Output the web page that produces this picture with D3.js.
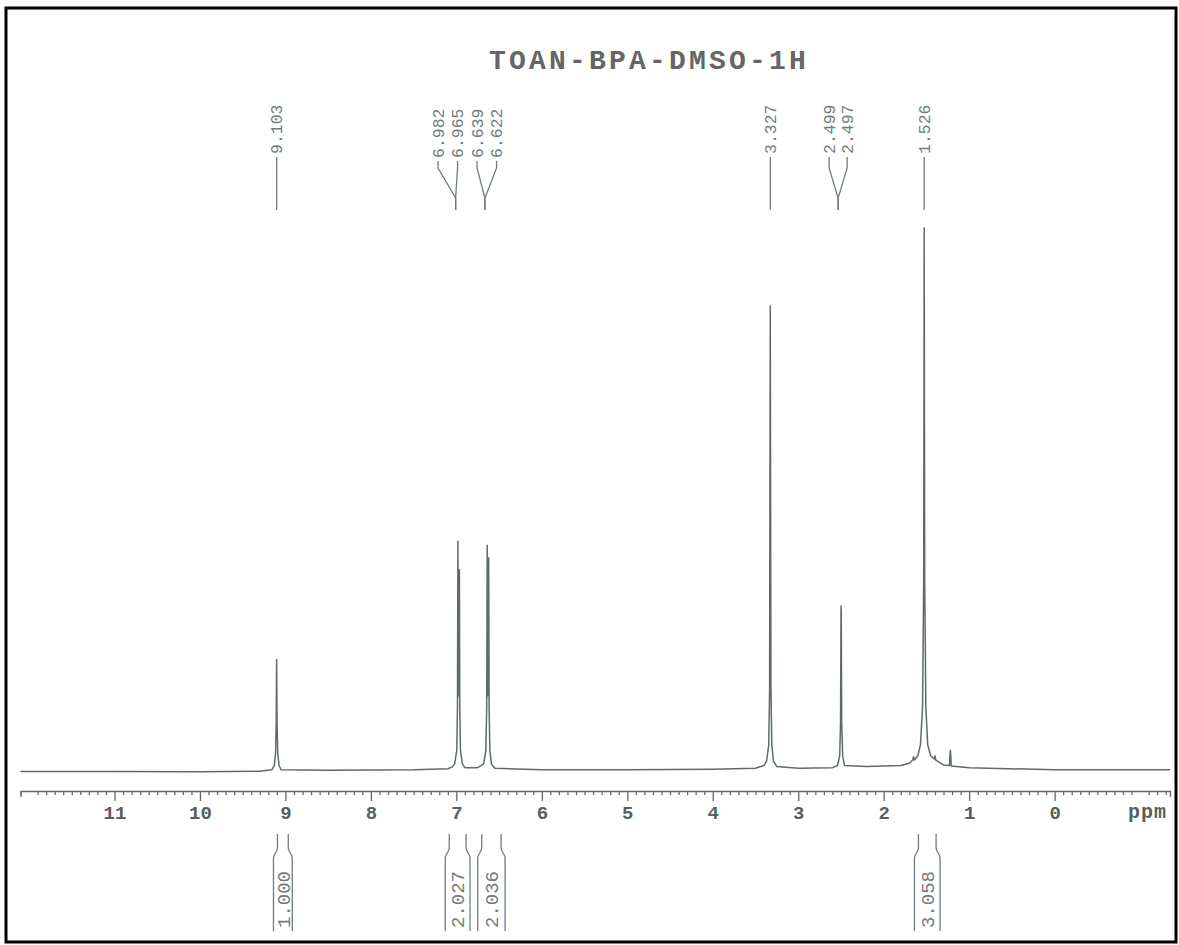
<!DOCTYPE html>
<html>
<head>
<meta charset="utf-8">
<script src="https://cdn.jsdelivr.net/npm/d3@7"></script>
<style>
  body { margin: 0; background: #fff; }
  svg { display: block; }
</style>
</head>
<body>
<div id="chart"></div>
<script>
// spectrum: [ppm, intensity], 100 = tallest peak
const spectrum = [
  [12.1, 0.1], [11, 0.1], [10, 0.05], [9.3, 0.15],
  [9.16, 0.4], [9.13, 1.2], [9.115, 3.5], [9.108, 9], [9.103, 20.7], [9.098, 9], [9.09, 3.5], [9.075, 1.2], [9.05, 0.4],
  [8.5, 0.3], [7.5, 0.4], [7.1, 0.6], [7.05, 0.9],
  [7.02, 1.5], [6.995, 4], [6.987, 12], [6.982, 42.4], [6.976, 14], [6.971, 14], [6.965, 37.2], [6.96, 12], [6.952, 4], [6.93, 1.5], [6.9, 0.8],
  [6.75, 0.8], [6.68, 1.5], [6.655, 4], [6.645, 12], [6.639, 41.7], [6.633, 14], [6.628, 14], [6.622, 39.4], [6.617, 12], [6.608, 4], [6.59, 1.5], [6.55, 0.7],
  [6, 0.4], [5, 0.4], [4, 0.5], [3.5, 0.7], [3.4, 1.2],
  [3.37, 2], [3.345, 5], [3.335, 15], [3.327, 85.7], [3.319, 15], [3.309, 5], [3.29, 2], [3.25, 1],
  [3, 0.7], [2.6, 0.8],
  [2.54, 1.2], [2.515, 3], [2.505, 9], [2.499, 30.5], [2.498, 28], [2.497, 30], [2.491, 9], [2.48, 3], [2.46, 1.2],
  [2.2, 1], [1.8, 1.2], [1.7, 1.6], [1.66, 2.2], [1.65, 2.8], [1.64, 2.2], [1.6, 3], [1.57, 5], [1.545, 12], [1.532, 35],
  [1.526, 100], [1.52, 35], [1.507, 12], [1.485, 5], [1.45, 3], [1.41, 2.4], [1.4, 3], [1.39, 2.2], [1.3, 1.3],
  [1.23, 1.2], [1.225, 3], [1.22, 4], [1.215, 3], [1.21, 1.1], [1, 0.8], [0, 0.4], [-1.35, 0.4]
];

// peak picks, grouped as printed
const peakGroups = [
  [9.103],
  [6.982, 6.965, 6.639, 6.622],
  [3.327],
  [2.499, 2.497],
  [1.526]
];

// integrals: [from ppm, to ppm, value]
const integrals = [
  [9.14, 8.92, "1.000"],
  [7.13, 6.84, "2.027"],
  [6.75, 6.43, "2.036"],
  [1.64, 1.34, "3.058"]
];

const majorTicks = [11, 10, 9, 8, 7, 6, 5, 4, 3, 2, 1, 0];
const titleText = "TOAN-BPA-DMSO-1H";

const W = 1179, H = 945;
const mono = "'Liberation Mono', 'Courier New', 'DejaVu Sans Mono', monospace";
const ink = "#5f6b6b";

const svg = d3.select("#chart").append("svg")
  .attr("width", W).attr("height", H);

// frame
svg.append("rect")
  .attr("x", 6).attr("y", 8).attr("width", 1170).attr("height", 934)
  .attr("fill", "none").attr("stroke", "#000").attr("stroke-width", 3);

const x = d3.scaleLinear().domain([12.1, -1.35]).range([20.5, 1170]);
const y = d3.scaleLinear().domain([0, 100]).range([772, 228]);

// title
svg.append("text")
  .attr("x", 649).attr("y", 69)
  .attr("text-anchor", "middle")
  .attr("font-family", mono).attr("font-weight", "bold")
  .attr("font-size", 28).attr("letter-spacing", 3.2)
  .attr("fill", "#666")
  .text(titleText);

// spectrum
const line = d3.line().x(d => x(d[0])).y(d => y(d[1]));
svg.append("path")
  .datum(spectrum)
  .attr("d", line)
  .attr("fill", "none")
  .attr("stroke", ink)
  .attr("stroke-width", 1.5)
  .attr("stroke-linejoin", "round");

// axis
const axisY = 791;
const minorTicks = d3.range(-13, 122).map(i => i / 10).filter(v => Math.abs(v - Math.round(v)) > 1e-6);

const minorAxis = svg.append("g")
  .attr("transform", `translate(0,${axisY})`)
  .call(d3.axisBottom(x).tickValues(minorTicks).tickSize(4).tickSizeOuter(6).tickFormat(""));

const majorAxis = svg.append("g")
  .attr("transform", `translate(0,${axisY})`)
  .call(d3.axisBottom(x).tickValues(majorTicks).tickSize(10).tickSizeOuter(0).tickPadding(5).tickFormat(d3.format("d")));

[minorAxis, majorAxis].forEach(g => {
  g.selectAll("path, line").attr("stroke", ink).attr("stroke-width", 1.3);
});
majorAxis.select(".domain").remove();
majorAxis.selectAll("text")
  .attr("font-family", mono).attr("font-weight", "bold")
  .attr("font-size", 19).attr("fill", "#566060");

svg.append("text")
  .attr("x", 1167).attr("y", axisY + 27)
  .attr("text-anchor", "end")
  .attr("font-family", mono).attr("font-weight", "bold")
  .attr("font-size", 20).attr("letter-spacing", 1)
  .attr("fill", "#566060")
  .text("ppm");

// peak labels
const labelBottom = 154, kneeTop = 168, kneeBot = 198, leadEnd = 210;
const labelFont = 16.5;
const labelInk = "#6f7c7c";

peakGroups.forEach(group => {
  const n = group.length;
  const cx = x(d3.mean(group)) + (n === 4 ? -6 : -3);
  const spacing = n === 2 ? 18 : 19.5;
  group.forEach((p, i) => {
    const lx = n === 1 ? x(p) : cx + (i - (n - 1) / 2) * spacing;
    const px = n === 1 ? x(p)
      : (n === 4 ? x(i < 2 ? (group[0] + group[1]) / 2 : (group[2] + group[3]) / 2) - 3 : cx);
    svg.append("text")
      .attr("transform", `translate(${lx},${labelBottom + (n === 4 ? 4 : 0)}) rotate(-90)`)
      .attr("dy", "0.35em")
      .attr("font-family", mono).attr("font-size", labelFont)
      .attr("fill", labelInk)
      .text(p.toFixed(3));
    const pts = n === 1
      ? [[lx, labelBottom + 3], [lx, leadEnd]]
      : [[lx, labelBottom + (n === 4 ? 7 : 3)], [lx, kneeTop], [px, kneeBot], [px, leadEnd]];
    svg.append("path")
      .attr("d", d3.line()(pts))
      .attr("fill", "none").attr("stroke", labelInk).attr("stroke-width", 1.3);
  });
});

// integrals
const intTop = 834, intBend1 = 848, intBend2 = 858, intBottom = 931;
integrals.forEach(([a, b, v]) => {
  const x0 = x(a), x1 = x(b);
  [[x0, 1], [x1, -1]].forEach(([ox, s]) => {
    const pts = [[ox + s * 4, intTop], [ox + s * 4, intBend1], [ox, intBend2], [ox, intBottom]];
    svg.append("path")
      .attr("d", d3.line().curve(d3.curveMonotoneY)(pts))
      .attr("fill", "none").attr("stroke", labelInk).attr("stroke-width", 1.3);
  });
  svg.append("text")
    .attr("transform", `translate(${(x0 + x1) / 2},${intBottom - 3}) rotate(-90)`)
    .attr("dy", "0.35em")
    .attr("font-family", mono).attr("font-size", 19)
    .attr("fill", labelInk)
    .text(v);
});
</script>
</body>
</html>
